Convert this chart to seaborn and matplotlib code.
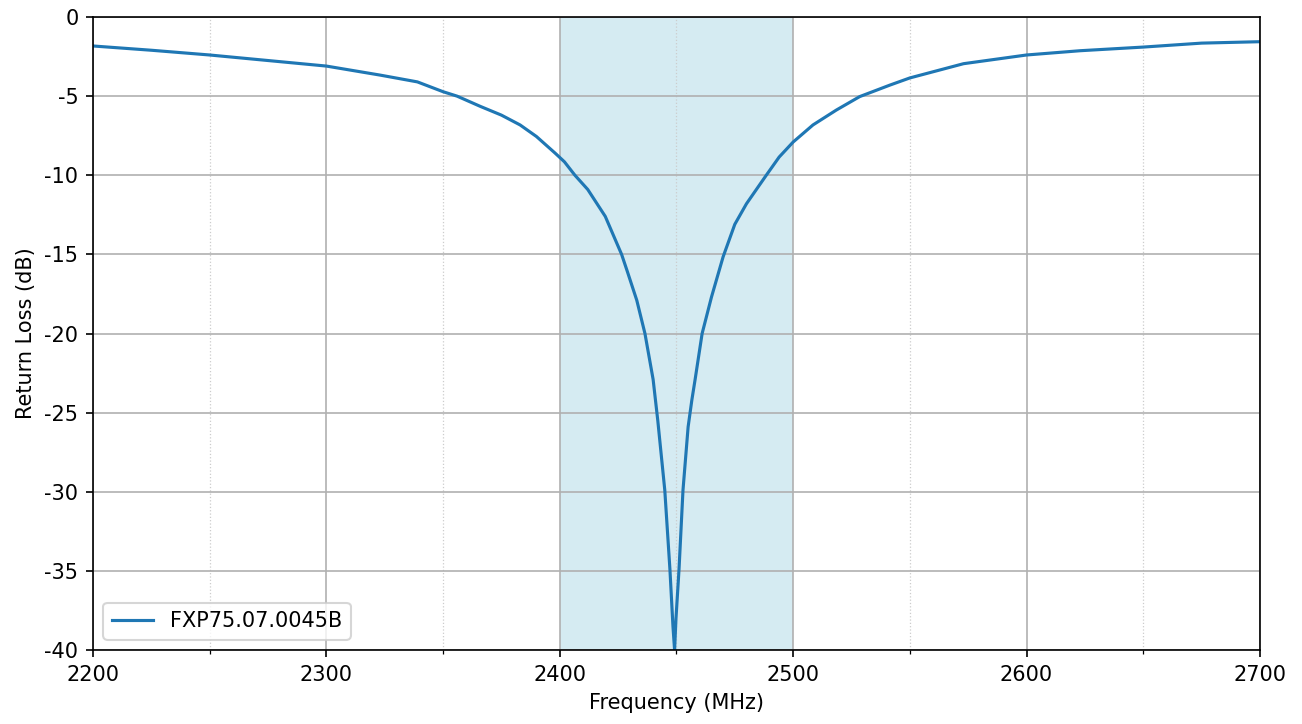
import matplotlib
matplotlib.use('Agg')
import matplotlib.pyplot as plt
from matplotlib.ticker import MultipleLocator
import numpy as np
import pandas as pd
import seaborn as sns

# values
freqMHz = [2200, 2225, 2250, 2275, 2300, 2323, 2339, 2350, 2356, 2366, 2375, 2383, 2390,
           2398, 2402, 2406.5, 2412, 2419.5, 2426.5, 2429, 2433, 2436.5, 2440, 2442, 2445,
           2447.2, 2448.5, 2449.2, 2449.8, 2451.1, 2452.8, 2455, 2456.6, 2458, 2461, 2465,
           2470, 2475, 2480, 2488, 2494, 2500, 2508.5, 2518.5, 2528.5, 2541.5, 2550, 2573,
           2600, 2623, 2650, 2675, 2700]
returnLoss = [-1.83, -2.1, -2.4, -2.75, -3.1, -3.67, -4.1, -4.72, -5.0, -5.65, -6.2, -6.82, -7.55,
              -8.6, -9.15, -10.0, -10.9, -12.6, -15.0, -16.1, -17.9, -20.0, -22.9, -25.5, -29.9,
              -34.9, -38.5, -40.0, -38.0, -34.9, -29.9, -25.9, -24.2, -22.9, -20.0, -17.7,
              -15.15, -13.1, -11.8, -10.1, -8.85, -7.9, -6.82, -5.88, -5.03, -4.3, -3.85, -2.95,
              -2.4, -2.13, -1.9, -1.65, -1.56]

bandLow = 2400
bandHigh = 2500
seriesLabel = 'FXP75.07.0045B'

df = pd.DataFrame({'Frequency (MHz)': freqMHz, 'Return Loss (dB)': returnLoss})

plt.rcParams['axes.unicode_minus'] = False
plt.rcParams['font.size'] = 10

fig = plt.figure(figsize=(8.68, 4.8267), dpi=150)
ax = fig.add_axes([0.0714, 0.1022, 0.8963, 0.8743])

ax.axvspan(bandLow, bandHigh, color='lightblue', alpha=0.5, lw=0)
sns.lineplot(data=df, x='Frequency (MHz)', y='Return Loss (dB)', ax=ax,
             color='#1f77b4', linewidth=1.5, label=seriesLabel)

ax.set_xlim(2200, 2700)
ax.set_ylim(-40, 0)
ax.xaxis.set_major_locator(MultipleLocator(100))
ax.xaxis.set_minor_locator(MultipleLocator(50))
ax.yaxis.set_major_locator(MultipleLocator(5))
ax.grid(which='major', color='#b0b0b0', linewidth=0.8)
ax.grid(which='minor', axis='x', color='#cccccc', linestyle=':', linewidth=0.6)

ax.legend(loc='lower left')

fig.savefig('out.png', dpi=150)
